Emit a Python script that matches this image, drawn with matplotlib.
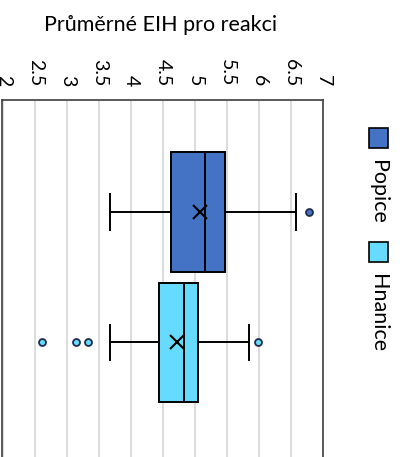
import matplotlib.pyplot as plt
from matplotlib.patches import Rectangle

# values (Excel-style box plot, rotated)
groups = ['Popice', 'Hnanice']
colors = ['#4472C4', '#66DBFF']
whislo = [3.67, 3.67]
q1 = [4.62, 4.44]
med = [5.16, 4.82]
q3 = [5.47, 5.04]
whishi = [6.58, 5.85]
means = [5.07, 4.72]
fliers = [[6.78], [2.60, 3.14, 3.32, 5.98]]
ticks = [2, 2.5, 3, 3.5, 4, 4.5, 5, 5.5, 6, 6.5, 7]
tick_labels = ['2', '2.5', '3', '3.5', '4', '4.5', '5', '5.5', '6', '6.5', '7']

plt.rcParams['font.family'] = ['Lato', 'DejaVu Sans']

W, H = 407, 457
fig = plt.figure(figsize=(W / 100, H / 100), dpi=100)
ax = fig.add_axes([2 / W, 0, (323 - 2) / W, 1 - 100 / H])

stats = []
for i, g in enumerate(groups):
    stats.append(dict(label=g, whislo=whislo[i], q1=q1[i], med=med[i], q3=q3[i],
                      whishi=whishi[i], mean=means[i], fliers=fliers[i]))

positions = [1, 2]
bp = ax.bxp(stats, positions=positions, vert=False, widths=0.915, patch_artist=True,
            showmeans=True, capwidths=0.27,
            boxprops=dict(edgecolor='black', linewidth=1.4),
            medianprops=dict(color='black', linewidth=1.4),
            whiskerprops=dict(color='black', linewidth=1.4),
            capprops=dict(color='black', linewidth=1.4),
            meanprops=dict(marker='x', markeredgecolor='black', markersize=10,
                           markeredgewidth=1.5),
            flierprops=dict(marker='o', markeredgecolor='#1f2d4d', markersize=5,
                            markeredgewidth=1.3))
for patch, c in zip(bp['boxes'], colors):
    patch.set_facecolor(c)
for fl, c in zip(bp['fliers'], colors):
    fl.set_markerfacecolor(c)

ax.set_xlim(1.98, 7)
ax.set_ylim(2.88, 0.14)
ax.set_xticks(ticks)
ax.set_xticklabels(tick_labels, rotation=-90, fontsize=14)
ax.set_yticks([])
ax.xaxis.tick_top()
ax.tick_params(axis='x', length=0, pad=10)
ax.grid(axis='x', color='#d9d9d9', linewidth=1.3)
ax.set_axisbelow(True)
for s in ['top', 'left', 'right']:
    ax.spines[s].set_color('#404040')
    ax.spines[s].set_linewidth(1.2)
ax.spines['bottom'].set_visible(False)

fig.text(161 / W, 1 - 25 / H, 'Průměrné EIH pro reakci', ha='center', va='center',
         fontsize=15.5)

# legend drawn by hand (rotated text)
legend_y = [138, 252]
for g, c, y in zip(groups, colors, legend_y):
    fig.patches.append(Rectangle((369 / W, 1 - (y + 10) / H), 19 / W, 20 / H,
                                 facecolor=c, edgecolor='black', linewidth=1.2,
                                 transform=fig.transFigure))
    fig.text(378.5 / W, 1 - (y + 22) / H, g, rotation=-90, ha='center', va='top',
             fontsize=15.5)

fig.savefig('out.png', dpi=100)
